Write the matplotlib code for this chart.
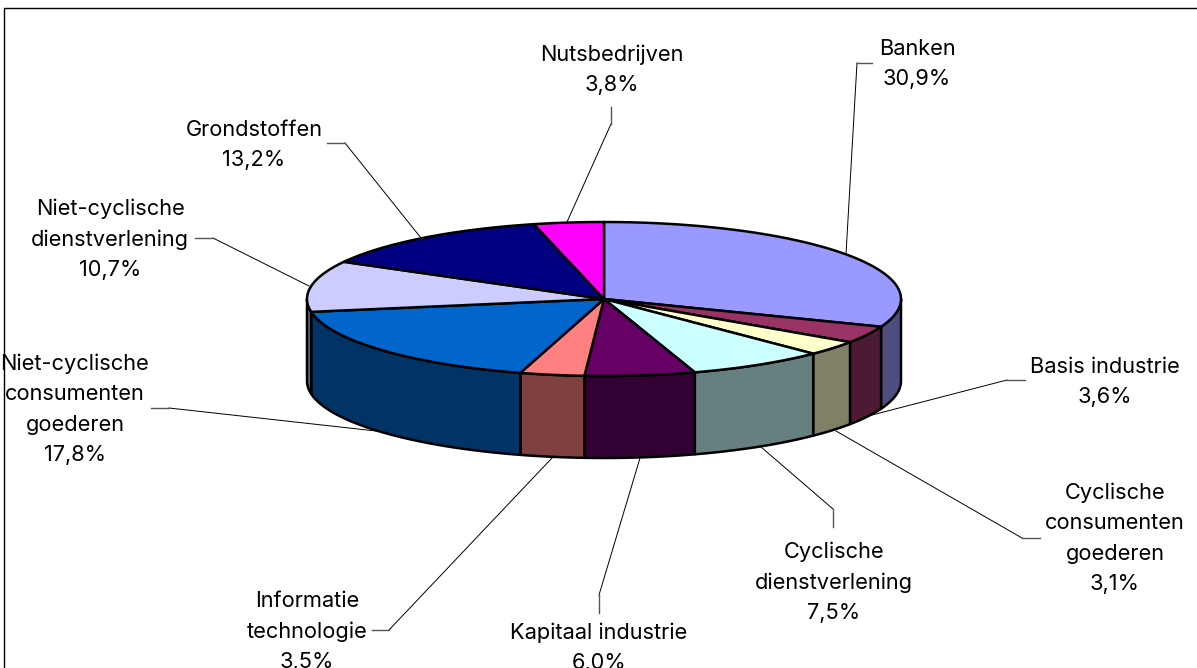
import numpy as np
import matplotlib
matplotlib.use("Agg")
import matplotlib.pyplot as plt
from matplotlib.patches import Polygon

# clockwise from the top of the pie
names = [["Banken"], ["Basis industrie"], ["Cyclische", "consumenten", "goederen"],
         ["Cyclische", "dienstverlening"], ["Kapitaal industrie"], ["Informatie", "technologie"],
         ["Niet-cyclische", "consumenten", "goederen"], ["Niet-cyclische", "dienstverlening"],
         ["Grondstoffen"], ["Nutsbedrijven"]]
values = [30.9, 3.6, 3.1, 7.5, 6.0, 3.5, 17.8, 10.7, 13.2, 3.8]
colors = ["#9999FF", "#993366", "#FFFFCC", "#CCFFFF", "#660066",
          "#FF8080", "#0066CC", "#CCCCFF", "#000080", "#FF00FF"]
side_colors = ["#4D4D80", "#4D1A33", "#808066", "#668080", "#330033",
               "#804040", "#003366", "#666680", "#000040", "#800080"]

# label centre x, y of the first line
label_pos = [(917, 49), (1105, 367), (1115, 493), (834, 552), (599, 633),
             (307, 601), (75, 364), (110, 209), (254, 130), (612, 55)]
# leader lines: pie end, elbow, label end
leaders = [[(846, 254), (857, 63), (872, 63)],
           [(872, 415), (1007, 380), (1025, 380)],
           [(836, 431), (1022, 538), (1040, 538)],
           [(761, 447), (833, 509), (833, 527)],
           [(640, 458), (599, 595), (599, 613)],
           [(552, 458), (389, 630), (372, 630)],
           [(385, 432), (169, 408), (151, 408)],
           [(309, 286), (213, 238), (195, 238)],
           [(421, 238), (345, 143), (327, 143)],
           [(567, 222), (611, 124), (611, 107)]]

cx, cy, rx, ry, depth = 604, 299, 297, 77, 82

plt.rcParams["font.family"] = "Inter"
fig = plt.figure(figsize=(11.97, 6.68), dpi=100)
ax = fig.add_axes([0, 0, 1, 1])
ax.set_xlim(0, 1197)
ax.set_ylim(668, 0)
ax.axis("off")

# frame, open on the right and bottom
ax.plot([4, 4, 1197], [668, 8, 8], color="black", lw=1.0)


def rim(a, b, dy=0):
    t = np.radians(np.linspace(a, b, 80))
    return np.column_stack([cx + rx * np.sin(t), cy + dy - ry * np.cos(t)])


edges = np.cumsum([0] + values) / sum(values) * 360

# outer wall, only the front half shows
for i in range(len(values)):
    a, b = max(edges[i], 90), min(edges[i + 1], 270)
    if a >= b:
        continue
    wall = np.vstack([rim(a, b), rim(a, b, depth)[::-1]])
    ax.add_patch(Polygon(wall, closed=True, fc=side_colors[i], ec="black", lw=1.8, joinstyle="round"))

# top faces
for i in range(len(values)):
    top = np.vstack([[cx, cy], rim(edges[i], edges[i + 1])])
    ax.add_patch(Polygon(top, closed=True, fc=colors[i], ec="black", lw=1.8, joinstyle="round"))

for pts in leaders:
    xs, ys = zip(*pts)
    ax.plot(xs[:2], ys[:2], color="black", lw=0.7)
    ax.plot(xs[1:], ys[1:], color="#555555", lw=1.0)

for name, val, (x, y) in zip(names, values, label_pos):
    lines = name + [f"{val:.1f}%".replace(".", ",")]
    for k, line in enumerate(lines):
        ax.text(x, y + k * 30.3, line, ha="center", va="center", fontsize=15.7, color="black")

fig.savefig("out.png", dpi=100)
